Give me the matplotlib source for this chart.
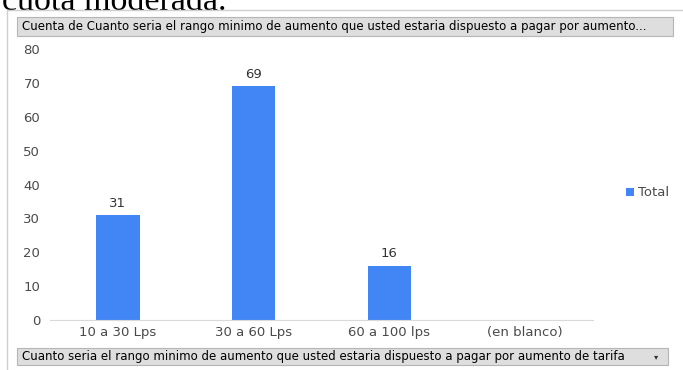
import matplotlib.pyplot as plt
from matplotlib.patches import Rectangle

# data
categories = ['10 a 30 Lps', '30 a 60 Lps', '60 a 100 lps', '(en blanco)']
values = [31, 69, 16, 0]
y_ticks = [0, 10, 20, 30, 40, 50, 60, 70, 80]
series_name = 'Total'
header_text = 'Cuenta de Cuanto seria el rango minimo de aumento que usted estaria dispuesto a pagar por aumento...'
footer_text = 'Cuanto seria el rango minimo de aumento que usted estaria dispuesto a pagar por aumento de tarifa'
page_text = 'cuota moderada.'

W, H = 683, 370
bar_color = '#4285f4'
text_color = '#4a4a4a'
chart_font = 'DejaVu Sans'

fig = plt.figure(figsize=(W / 100, H / 100), dpi=100)
fig.patch.set_facecolor('white')

def px(x, y):
    # pixel coords (from top-left) -> figure fraction
    return x / W, 1 - y / H

# document text cut off at the top of the screenshot
fig.text(*px(2, 9.5), page_text, family='Liberation Serif', fontsize=24.5,
         va='baseline', ha='left', color='black', zorder=-3)

# outer chart frame
fx, fy = px(7, 10)
fig.patches.append(Rectangle((fx, -0.01), 1.2, fy + 0.01, transform=fig.transFigure,
                             facecolor='white', edgecolor='#cfcfcf', lw=1.0,
                             zorder=-2))

# header and footer field buttons
def field_box(x0, y0, x1, y1, label, arrow=False):
    bx, by = px(x0, y1)
    bw = (x1 - x0) / W
    bh = (y1 - y0) / H
    fig.patches.append(Rectangle((bx, by), bw, bh, transform=fig.transFigure,
                                 facecolor='#dedede', edgecolor='#b5b5b5', lw=0.8,
                                 zorder=-1))
    tx, ty = px(x0 + 5, (y0 + y1) / 2)
    fig.text(tx, ty, label, family='DejaVu Sans', fontsize=8.5, va='center',
             ha='left', color='black')
    if arrow:
        ax_, ay_ = px(x1 - 12, (y0 + y1) / 2)
        fig.text(ax_, ay_, '\u25be', family='DejaVu Sans', fontsize=6,
                 va='center', ha='center', color='#333333')

field_box(17, 17, 673, 36, header_text)
field_box(17, 348, 668, 365, footer_text, arrow=True)

# plot area
left, bottom = px(50, 320)
ax = fig.add_axes([left, bottom, (593 - 50) / W, (320 - 49) / H])
ax.set_facecolor('none')
x = range(len(categories))
bars = ax.bar(x, values, width=0.32, color=bar_color, label=series_name)
for xi, v in zip(x, values):
    if v > 0:
        ax.text(xi, v + 1.6, str(v), ha='center', va='bottom', fontsize=9.5,
                family=chart_font, color='#333333')

ax.set_xlim(-0.5, len(categories) - 0.5)
ax.set_ylim(0, 80)
ax.set_yticks(y_ticks)
ax.set_xticks(list(x))
ax.set_xticklabels(categories)
for side in ['top', 'right', 'left']:
    ax.spines[side].set_visible(False)
ax.spines['bottom'].set_color('#d9d9d9')
ax.tick_params(axis='both', length=0, labelsize=9.5, colors=text_color)
ax.tick_params(axis='y', pad=7)
ax.tick_params(axis='x', pad=4)
for lbl in ax.get_xticklabels() + ax.get_yticklabels():
    lbl.set_family(chart_font)

leg = fig.legend(loc='center left', bbox_to_anchor=px(614, 193), frameon=False,
                 prop={'family': chart_font, 'size': 9.5},
                 handlelength=0.6, handleheight=0.6, handletextpad=0.35)
for t in leg.get_texts():
    t.set_color(text_color)

fig.savefig('out.png', dpi=100)
